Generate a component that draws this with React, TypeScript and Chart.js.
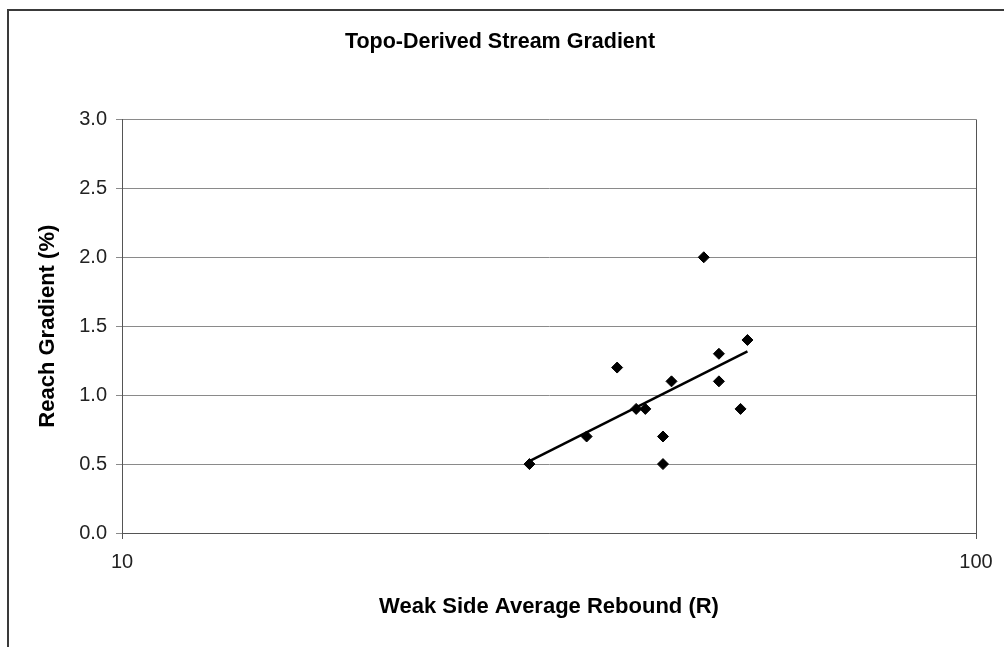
import React, { useEffect, useRef } from "react";
import { Chart, registerables } from "chart.js";

Chart.register(...registerables);

// Weak side average rebound (R) and reach gradient (%) for each surveyed reach
const reboundValues = [30, 35, 38, 40, 41, 44, 43, 43, 48, 50, 50, 53, 54];
const gradientValues = [0.5, 0.7, 1.2, 0.9, 0.9, 1.1, 0.7, 0.5, 2.0, 1.3, 1.1, 0.9, 1.4];

const xTickValues = [10, 100];
const yTickStep = 0.5;

const FONT = "'Liberation Sans', Arial, sans-serif";

// Least-squares logarithmic trend: gradient = a * ln(rebound) + b
function logTrend(xs: number[], ys: number[]) {
  const n = xs.length;
  const us = xs.map((x) => Math.log(x));
  const mu = us.reduce((s, u) => s + u, 0) / n;
  const my = ys.reduce((s, y) => s + y, 0) / n;
  let sxy = 0;
  let sxx = 0;
  for (let i = 0; i < n; i++) {
    sxy += (us[i] - mu) * (ys[i] - my);
    sxx += (us[i] - mu) * (us[i] - mu);
  }
  const a = sxy / sxx;
  const b = my - a * mu;
  const x0 = Math.min(...xs);
  const x1 = Math.max(...xs);
  return [
    { x: x0, y: a * Math.log(x0) + b },
    { x: x1, y: a * Math.log(x1) + b },
  ];
}

// White page, the chart frame and the right edge of the plot area
const framePlugin = {
  id: "frame",
  beforeDraw(chart: Chart) {
    const { ctx, width, height } = chart;
    ctx.save();
    ctx.fillStyle = "#ffffff";
    ctx.fillRect(0, 0, width, height);
    ctx.restore();
  },
  afterDraw(chart: Chart) {
    const { ctx, width, height, chartArea } = chart;
    ctx.save();
    ctx.strokeStyle = "#3a3a3a";
    ctx.lineWidth = 2;
    ctx.beginPath();
    ctx.moveTo(8, height);
    ctx.lineTo(8, 10);
    ctx.lineTo(width, 10);
    ctx.stroke();
    ctx.strokeStyle = "#555555";
    ctx.lineWidth = 1;
    ctx.beginPath();
    ctx.moveTo(Math.round(chartArea.right) + 0.5, chartArea.top);
    ctx.lineTo(Math.round(chartArea.right) + 0.5, chartArea.bottom);
    ctx.stroke();
    ctx.restore();
  },
};

export default function App() {
  const canvasRef = useRef<HTMLCanvasElement | null>(null);

  useEffect(() => {
    const canvas = canvasRef.current;
    if (!canvas) return;

    const points = reboundValues.map((x, i) => ({ x, y: gradientValues[i] }));
    const trend = logTrend(reboundValues, gradientValues);

    const chart = new Chart(canvas, {
      type: "scatter",
      data: {
        datasets: [
          {
            label: "Reaches",
            data: points,
            pointStyle: "rectRot",
            pointRadius: 5.5,
            backgroundColor: "#000000",
            borderColor: "#000000",
            borderWidth: 1,
            order: 1,
          },
          {
            label: "Trend",
            data: trend,
            showLine: true,
            pointRadius: 0,
            borderColor: "#000000",
            borderWidth: 2.5,
            order: 2,
          },
        ],
      },
      options: {
        responsive: false,
        animation: false,
        devicePixelRatio: 1,
        layout: {
          autoPadding: false,
          padding: { left: 24, right: 28, top: 0, bottom: 0 },
        },
        plugins: {
          legend: { display: false },
          tooltip: { enabled: false },
          title: {
            display: true,
            text: "Topo-Derived Stream Gradient",
            color: "#000000",
            font: { family: FONT, size: 21.5, weight: "bold", lineHeight: 1.2 },
            padding: { top: 29.3, bottom: 64.3 },
          },
        },
        scales: {
          x: {
            type: "logarithmic",
            min: 10,
            max: 100,
            afterFit: (scale: any) => {
              scale.height = 114;
            },
            afterBuildTicks: (scale: any) => {
              scale.ticks = xTickValues.map((v) => ({ value: v }));
            },
            ticks: {
              color: "#222222",
              font: { family: FONT, size: 20, lineHeight: 1.2 },
              padding: 11,
              maxRotation: 0,
              autoSkip: false,
              callback: (value: any) => String(value),
            },
            grid: {
              drawOnChartArea: false,
              drawTicks: true,
              tickLength: 6,
              color: "#555555",
            },
            border: { display: true, color: "#555555", width: 1 },
            title: {
              display: true,
              text: "Weak Side Average Rebound (R)",
              color: "#000000",
              font: { family: FONT, size: 22, weight: "bold", lineHeight: 1.2 },
              padding: { top: 0, bottom: 26.8 },
            },
          },
          y: {
            type: "linear",
            min: 0,
            max: 3,
            afterFit: (scale: any) => {
              scale.width = 98;
            },
            ticks: {
              stepSize: yTickStep,
              color: "#222222",
              font: { family: FONT, size: 20, lineHeight: 1.2 },
              padding: 9,
              callback: (value: any) => Number(value).toFixed(1),
            },
            grid: {
              color: "#8a8a8a",
              lineWidth: 1,
              drawTicks: true,
              tickLength: 6,
            },
            border: { display: true, color: "#555555", width: 1 },
            title: {
              display: true,
              text: "Reach Gradient (%)",
              color: "#000000",
              font: { family: FONT, size: 22, weight: "bold", lineHeight: 1.2 },
              padding: { top: 10.8, bottom: 0 },
            },
          },
        },
      },
      plugins: [framePlugin],
    });

    return () => {
      chart.destroy();
    };
  }, []);

  return (
    <div style={{ position: "absolute", left: 0, top: 0, width: 1004, height: 647 }}>
      <canvas ref={canvasRef} width={1004} height={647} />
    </div>
  );
}
